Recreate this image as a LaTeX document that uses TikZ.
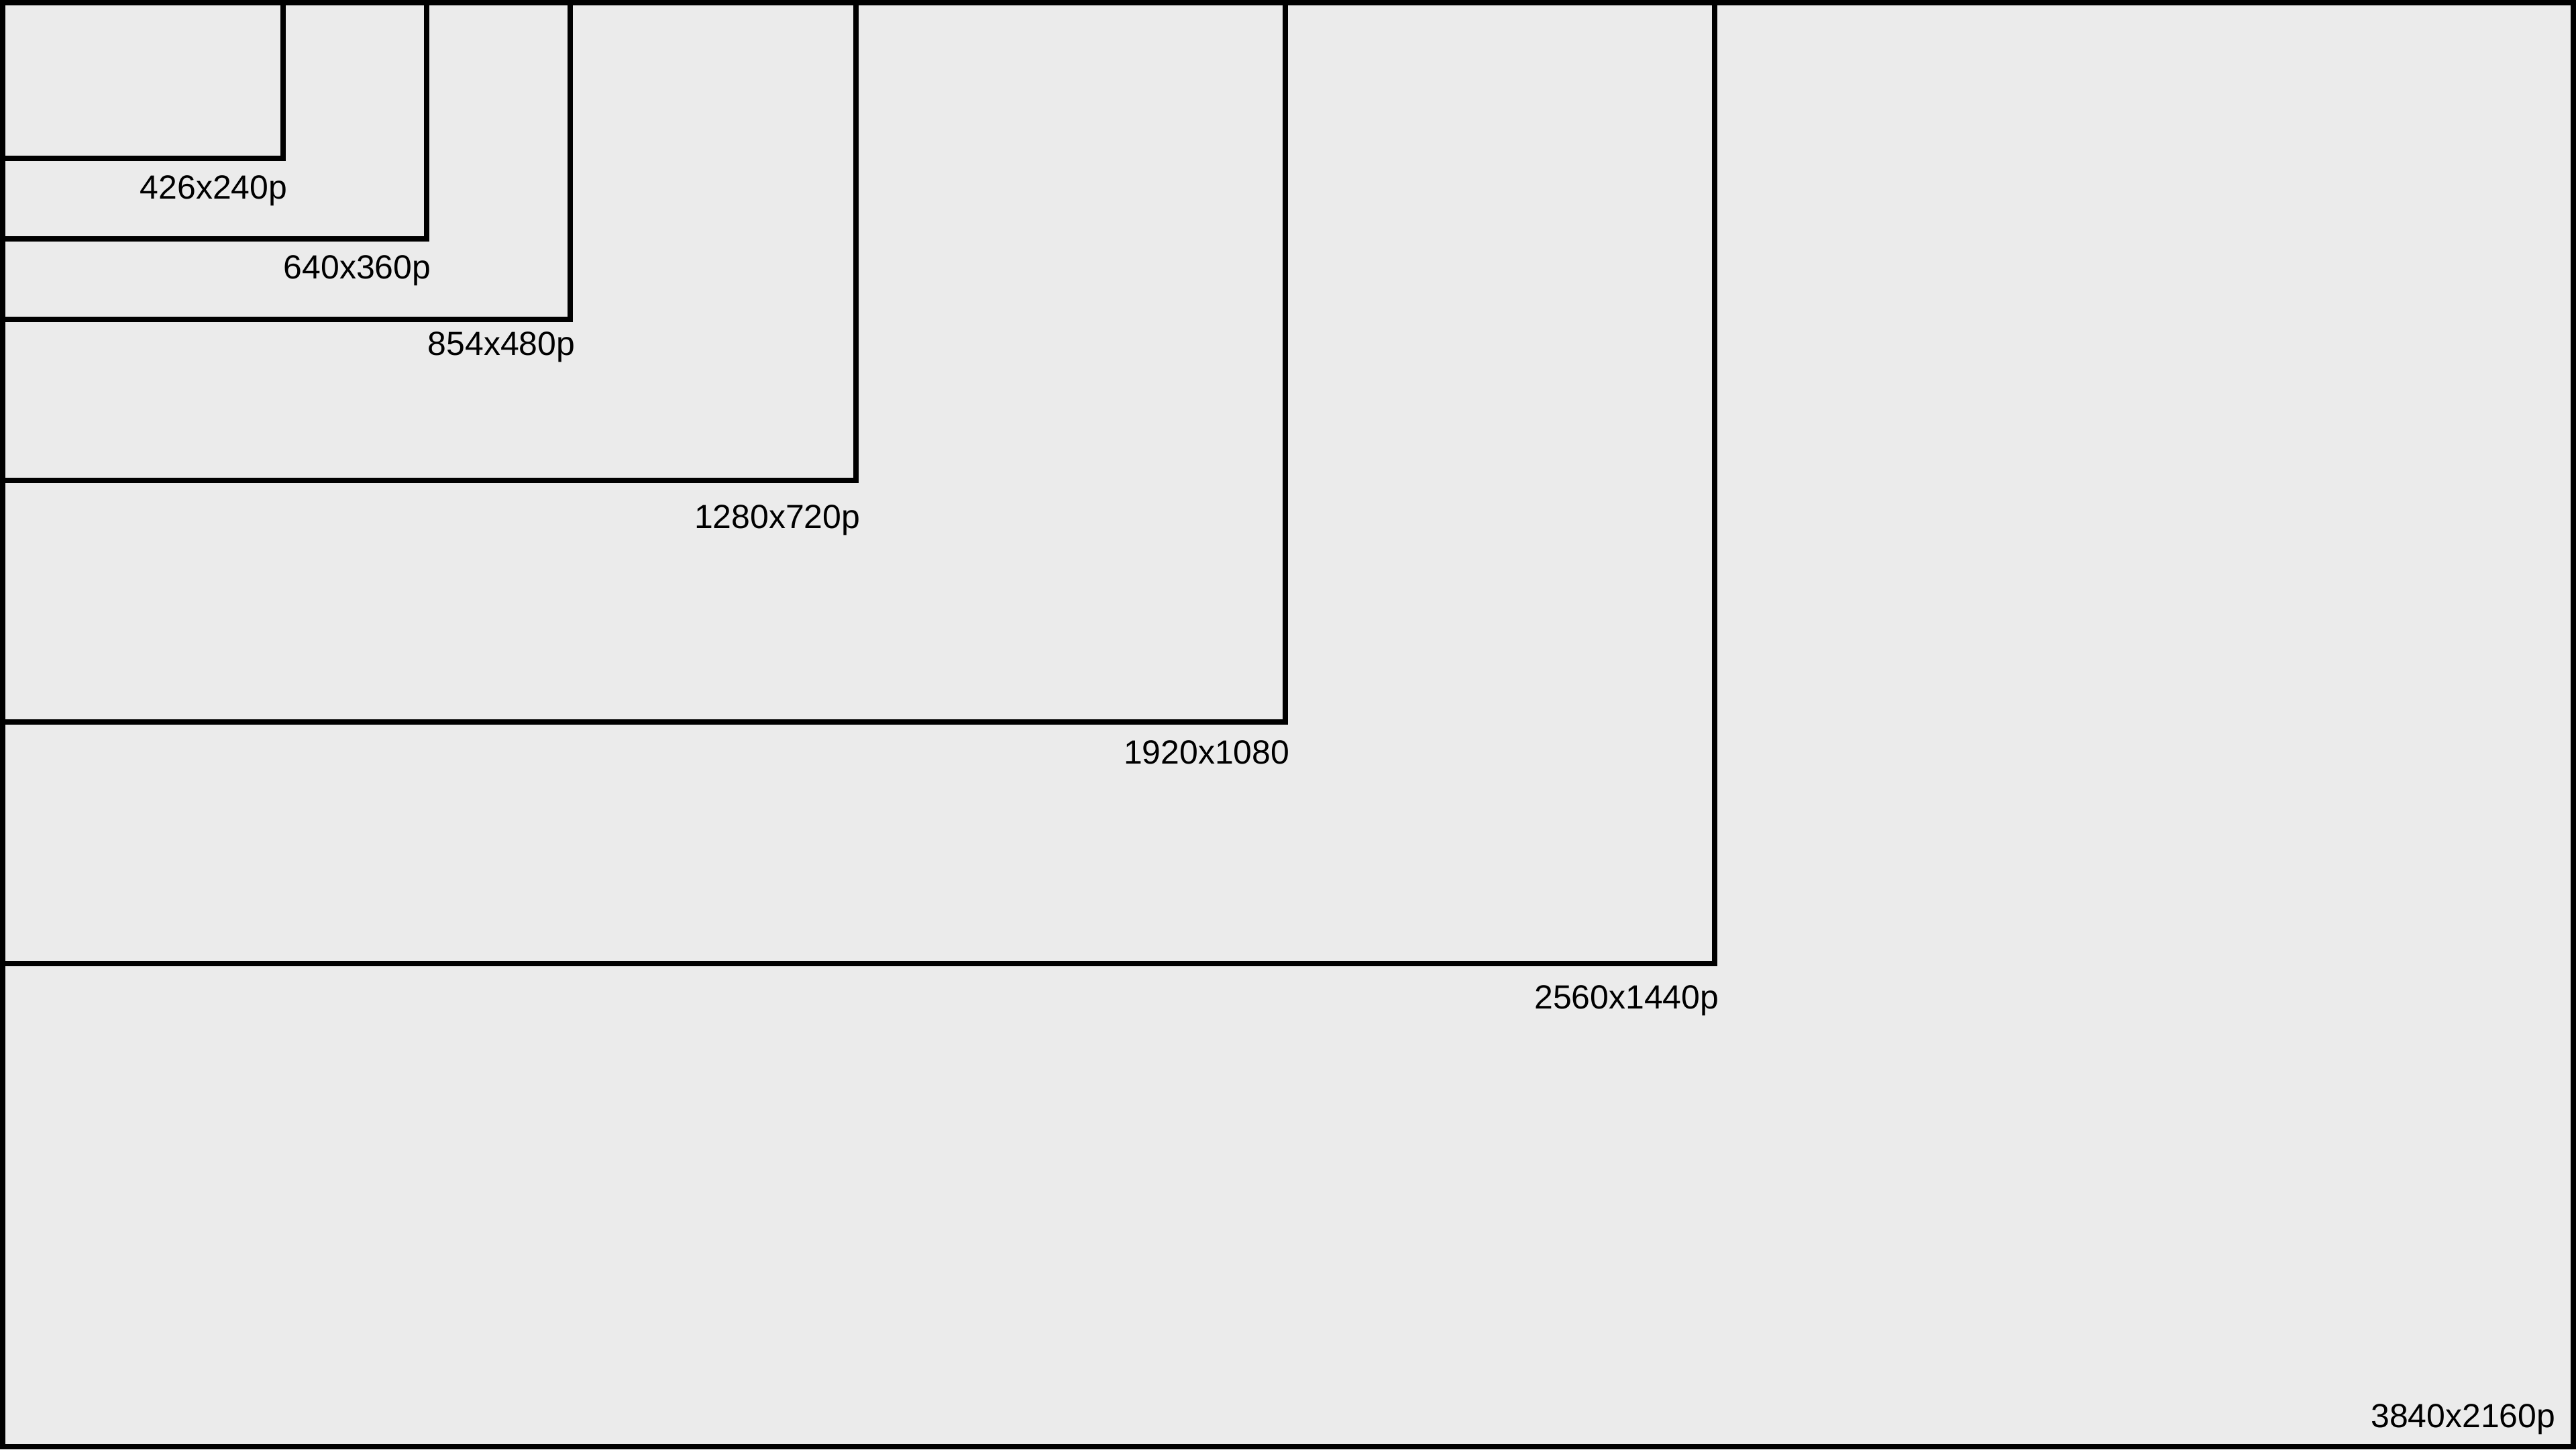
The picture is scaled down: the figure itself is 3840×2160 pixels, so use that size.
\documentclass[tikz,border=0pt]{standalone}
\usepackage{fontspec}
\setmainfont{Liberation Sans}
\definecolor{screengray}{HTML}{EBEBEB}
\begin{document}
\begin{tikzpicture}[x=0.01cm,y=-0.01cm,
  frame/.style={draw=black,line width=0.08cm},
  size label/.style={anchor=base east,inner sep=0pt,xshift=0.03cm,font=\fontsize{14.2pt}{17pt}\selectfont}]
  % canvas and outer screen
  \fill[screengray] (0,0) rectangle (3840,2160);
  \draw[frame] (4,4) rectangle (3836,2156);

  % nested screen sizes
  \draw[frame] (4,4) rectangle (422,236);
  \draw[frame] (4,4) rectangle (636,356);
  \draw[frame] (4,4) rectangle (850,476);
  \draw[frame] (4,4) rectangle (1276,716);
  \draw[frame] (4,4) rectangle (1916,1076);
  \draw[frame] (4,4) rectangle (2556,1436);

  \node[size label] (p240) at (426,296) {426x240p};
  \node[size label] (p360) at (640,415) {640x360p};
  \node[size label] (p480) at (855,529) {854x480p};
  \node[size label] (p720) at (1280,787) {1280x720p};
  \node[size label] (p1080) at (1920,1138) {1920x1080};
  \node[size label] (p1440) at (2560,1503) {2560x1440p};
  \node[size label] (p2160) at (3807,2127) {3840x2160p};
\end{tikzpicture}
\end{document}
